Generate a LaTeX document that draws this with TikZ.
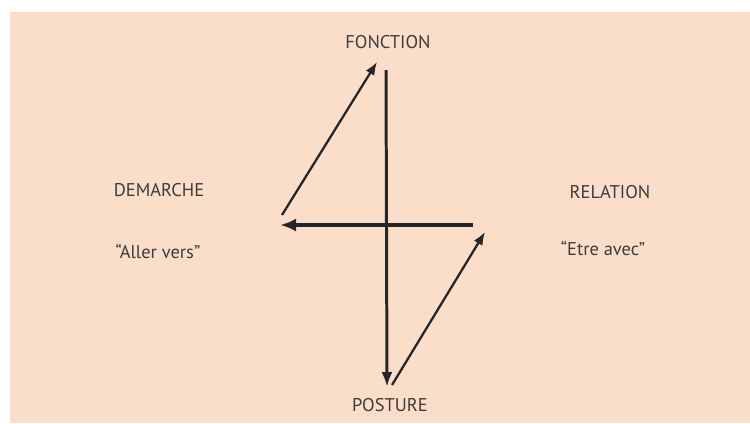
\documentclass[tikz,border=0pt]{standalone}
\usepackage{fontspec}
\setmainfont{PT Sans}
\usetikzlibrary{arrows.meta, positioning}
\definecolor{peach1}{RGB}{250, 222, 201}
\definecolor{ink1}{RGB}{38, 38, 40}
\definecolor{textgray}{RGB}{62, 60, 60}

\begin{document}
\begin{tikzpicture}[x=0.02cm, y=-0.02cm,
  txt/.style={font=\fontsize{10.5}{12}\selectfont, text=textgray, inner sep=1pt},
  arr/.style={-{Latex[length=2.6mm, width=2mm]}, line width=1.3pt, draw=ink1},
  vline/.style={-{Latex[length=3mm, width=2.2mm]}, line width=1.7pt, draw=ink1},
  hline/.style={-{Latex[length=3.2mm, width=2.6mm]}, line width=2.8pt, draw=ink1}
]
  \useasboundingbox (0,0) rectangle (750,423);
  \fill[white] (0,0) rectangle (750,423);
  \fill[peach1] (10,12) rectangle (750,423);
  % labels
  \node[txt] (fonction) at (388, 42) {FONCTION};
  \node[txt] (posture) at (390, 405) {POSTURE};
  \node[txt] (demarche) at (159, 190) {DEMARCHE};
  \node[txt] (aller) at (158, 251) {``Aller vers''};
  \node[txt] (relation) at (610, 192) {RELATION};
  \node[txt] (etre) at (603, 248) {``Etre avec''};
  % ends of the strokes
  \coordinate (vtop) at (386, 70);
  \coordinate (vbot) at (387, 387);
  \coordinate (hright) at (473, 225);
  \coordinate (hleft) at (280, 225);
  \coordinate (dlo) at (282, 215);
  \coordinate (dhi) at (377, 62);
  \coordinate (rlo) at (392, 385);
  \coordinate (rhi) at (485, 232);
  \draw[vline] (vtop) -- (vbot);
  \draw[arr] (rlo) -- (rhi);
  \draw[hline] (hright) -- (hleft);
  \draw[arr] (dlo) -- (dhi);
\end{tikzpicture}
\end{document}
